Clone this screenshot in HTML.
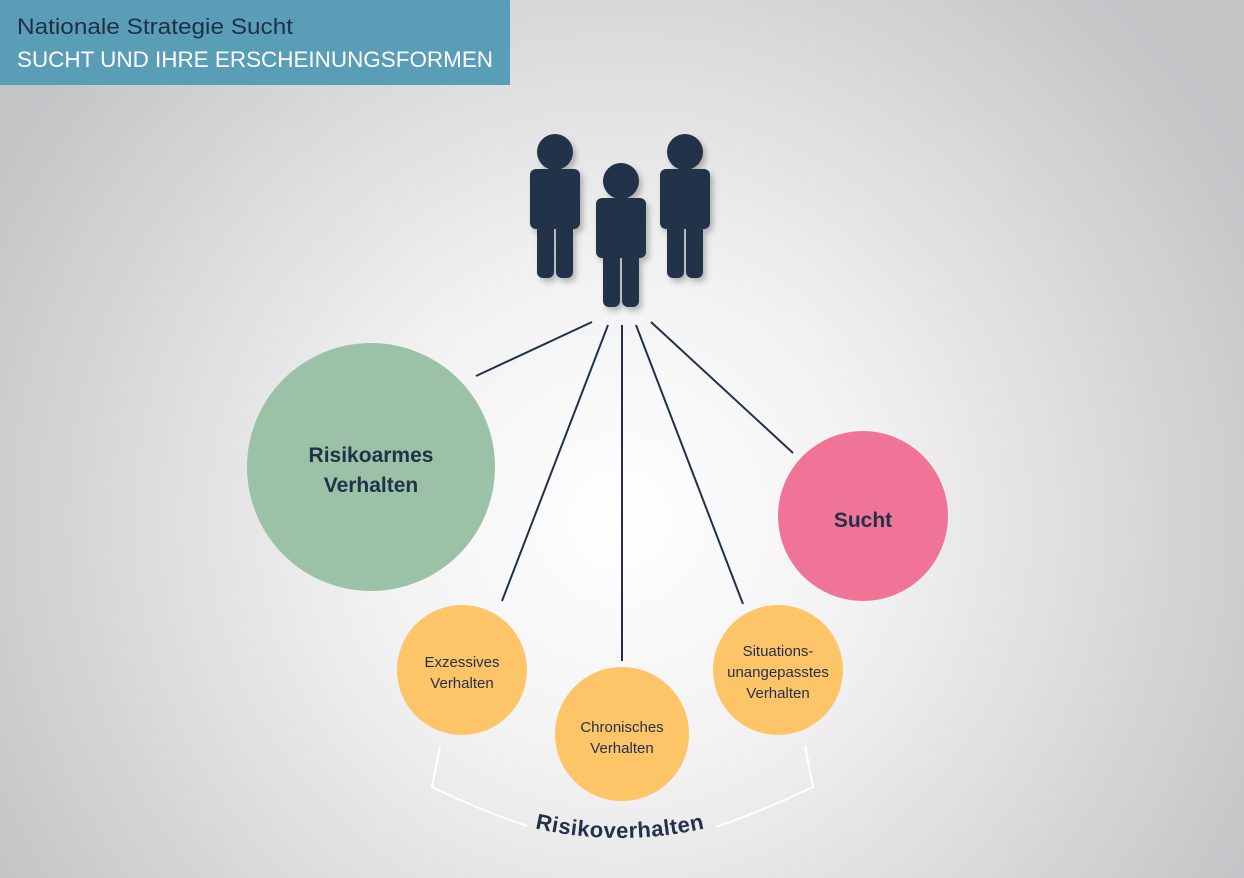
<!DOCTYPE html>
<html><head><meta charset="utf-8"><style>
html,body{margin:0;padding:0;width:1244px;height:878px;overflow:hidden}
text{font-family:"Liberation Sans",sans-serif}
</style></head><body>
<svg width="1244" height="878" viewBox="0 0 1244 878" xmlns="http://www.w3.org/2000/svg">
<defs>
<radialGradient id="bg" cx="620" cy="520" r="720" gradientUnits="userSpaceOnUse">
<stop offset="0" stop-color="#ffffff"/><stop offset="0.35" stop-color="#f2f2f3"/><stop offset="1" stop-color="#c4c4c7"/>
</radialGradient>
<filter id="sh" x="-20%" y="-20%" width="150%" height="150%"><feDropShadow dx="3" dy="4" stdDeviation="3" flood-color="#000" flood-opacity="0.25"/></filter>
<g id="person">
<circle cx="0" cy="0" r="18"/>
<rect x="-25" y="17" width="50" height="60" rx="6"/>
<rect x="-18" y="60" width="17" height="66" rx="6"/>
<rect x="1" y="60" width="17" height="66" rx="6"/>
</g>
<path id="arc" d="M470,808 Q620,868 770,808" fill="none"/>
</defs>
<rect width="1244" height="878" fill="url(#bg)"/>
<rect x="0" y="0" width="510" height="85" fill="#5a9db6"/>
<text x="17" y="34" font-size="22" fill="#1e3048" textLength="276" lengthAdjust="spacingAndGlyphs">Nationale Strategie Sucht</text>
<text x="17" y="67" font-size="22" fill="#ffffff" textLength="476" lengthAdjust="spacingAndGlyphs">SUCHT UND IHRE ERSCHEINUNGSFORMEN</text>
<g fill="#22314a" filter="url(#sh)">
<use href="#person" x="555" y="152"/>
<use href="#person" x="621" y="181"/>
<use href="#person" x="685" y="152"/>
</g>
<g stroke="#22314a" stroke-width="2">
<line x1="592" y1="322" x2="476" y2="376"/>
<line x1="608" y1="325" x2="502" y2="601"/>
<line x1="622" y1="325" x2="622" y2="661"/>
<line x1="636" y1="325" x2="743" y2="604"/>
<line x1="651" y1="322" x2="793" y2="453"/>
</g>
<circle cx="371" cy="467" r="124" fill="#9bc2a6"/>
<circle cx="863" cy="516" r="85" fill="#f07498"/>
<circle cx="462" cy="670" r="65" fill="#fdc468"/>
<circle cx="622" cy="734" r="67" fill="#fdc468"/>
<circle cx="778" cy="670" r="65" fill="#fdc468"/>
<g fill="#22314a" text-anchor="middle" font-weight="bold" font-size="21">
<text x="371" y="462">Risikoarmes</text><text x="371" y="492">Verhalten</text>
<text x="863" y="527">Sucht</text>
</g>
<g fill="#22314a" text-anchor="middle" font-size="15">
<text x="462" y="667">Exzessives</text><text x="462" y="688">Verhalten</text>
<text x="622" y="732">Chronisches</text><text x="622" y="753">Verhalten</text>
<text x="778" y="656">Situations-</text><text x="778" y="677">unangepasstes</text><text x="778" y="698">Verhalten</text>
</g>
<path d="M440,746 L432,787 Q480,810 527,826" stroke="#fff" stroke-width="2" fill="none"/>
<path d="M805,746 L813,787 Q765,810 716,827" stroke="#fff" stroke-width="2" fill="none"/>
<text font-size="22" font-weight="bold" fill="#22314a" letter-spacing="0.5"><textPath href="#arc" startOffset="50%" text-anchor="middle">Risikoverhalten</textPath></text>
</svg>
</body></html>
